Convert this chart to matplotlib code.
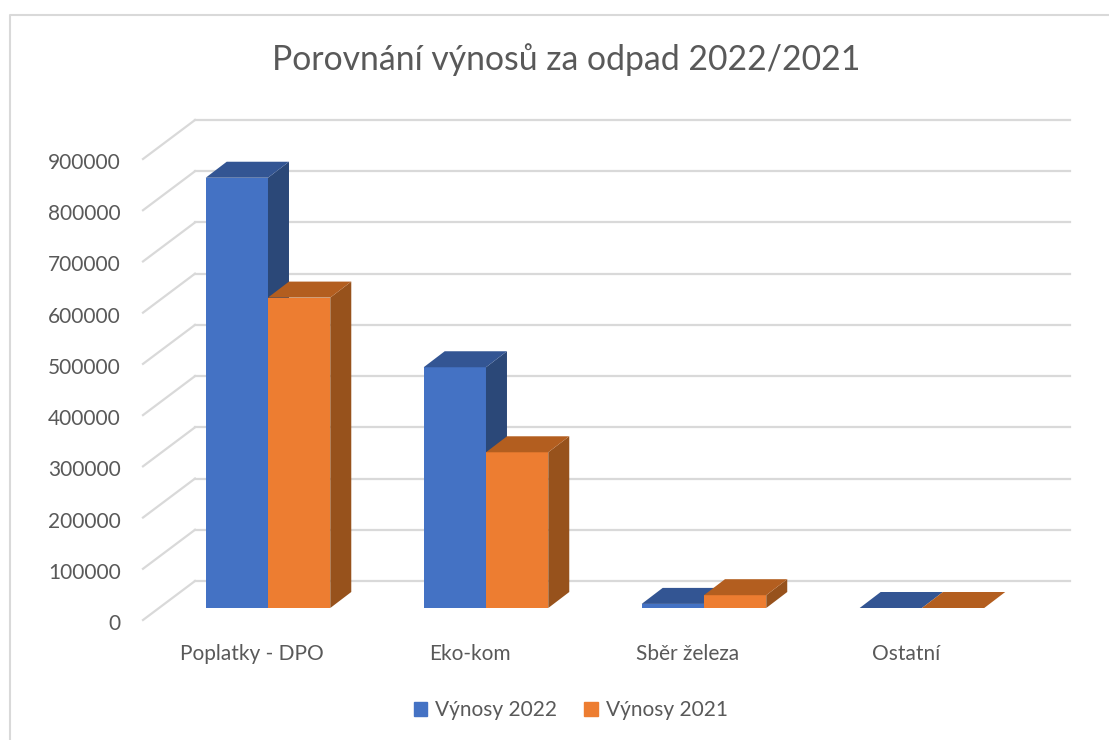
# Porovnani vynosu - 3D sloupce kreslene rucne pres osy
import matplotlib
matplotlib.use('Agg')
import matplotlib.pyplot as plt
from matplotlib.patches import Patch, Polygon
from matplotlib.transforms import Affine2D

categories = ['Poplatky - DPO', 'Eko-kom', 'Sběr železa', 'Ostatní']
vynosy_2022 = [840000, 470000, 8000, 0]
vynosy_2021 = [606000, 304000, 25000, 0]
y_ticks = [0, 100000, 200000, 300000, 400000, 500000, 600000, 700000, 800000, 900000]
series_names = ['Výnosy 2022', 'Výnosy 2021']

W, H = 1109, 740
BAR_W = 0.2857
# hloubka v pixelech
WALL = (52, 39)
BAR_SHIFT = (16, 12)
BAR_DEPTH = (21, 16)

plt.rcParams['font.family'] = ['Lato', 'DejaVu Sans']
GREY = '#595959'

fig = plt.figure(figsize=(W / 100, H / 100), dpi=100)
# ramecek grafu
fig.add_artist(plt.Line2D([9.5 / W, 9.5 / W, 1], [0, 1 - 14.5 / H, 1 - 14.5 / H], color='#d9d9d9', lw=1.5))

ax = fig.add_axes([143 / W, 1 - 620 / H, 875 / W, 461 / H])
ax.patch.set_alpha(0)
ax.set_xlim(-0.5, 3.514)
ax.set_ylim(0, 900000)
for s in ax.spines.values():
    s.set_visible(False)
ax.set_yticks(y_ticks)
ax.set_xticks(range(len(categories)))
ax.set_xticklabels(categories)
ax.tick_params(axis='y', length=0, pad=16, labelsize=15, labelcolor=GREY)
ax.tick_params(axis='x', length=0, pad=17.5, labelsize=15, labelcolor=GREY)
for lab in ax.get_yticklabels():
    lab.set_transform(lab.get_transform() + Affine2D().translate(0, -2))

# mrizka: zadni stena + sikme cary
wall = ax.transData + Affine2D().translate(*WALL)
for v in y_ticks:
    ax.plot(ax.get_xlim(), [v, v], color='#d9d9d9', lw=1.6, transform=wall, clip_on=False, zorder=1)
    x0, y0 = ax.transData.transform((-0.5, v))
    ax.add_line(plt.Line2D([x0, x0 + WALL[0]], [y0, y0 + WALL[1]], color='#d9d9d9', lw=1.6,
                           transform=None, clip_on=False, zorder=1))

shift = ax.transData + Affine2D().translate(*BAR_SHIFT)
dx, dy = BAR_DEPTH


def draw_bar(x, v, front, top, side, z):
    ax.bar(x, v, BAR_W, align='edge', color=front, transform=shift, clip_on=False, zorder=z)
    (l, b), (r, t) = shift.transform([(x, 0), (x + BAR_W, v)])
    ax.add_patch(Polygon([(r, b), (r + dx, b + dy), (r + dx, t + dy), (r, t)], fc=side, ec='none',
                         transform=None, clip_on=False, zorder=z))
    ax.add_patch(Polygon([(l, t), (r, t), (r + dx, t + dy), (l + dx, t + dy)], fc=top, ec='none',
                         transform=None, clip_on=False, zorder=z))


for i in range(len(categories)):
    draw_bar(i - BAR_W, vynosy_2022[i], '#4472C4', '#335593', '#2B4878', 3 + i * 2)
    draw_bar(i, vynosy_2021[i], '#ED7D31', '#B35E1F', '#97521C', 4 + i * 2)

fig.text(566 / W, 1 - 60 / H, 'Porovnání výnosů za odpad 2022/2021', ha='center', va='center',
         fontsize=24.3, color=GREY)

handles = [Patch(color='#4472C4', label=series_names[0]), Patch(color='#ED7D31', label=series_names[1])]
fig.legend(handles=handles, loc='center', bbox_to_anchor=(570.5 / W, 1 - 710.5 / H), ncol=2, frameon=False,
           fontsize=15, labelcolor=GREY, handlelength=0.67, handleheight=0.67, handletextpad=0.34,
           columnspacing=1.34)

fig.savefig('out.png', dpi=100, facecolor='white')
